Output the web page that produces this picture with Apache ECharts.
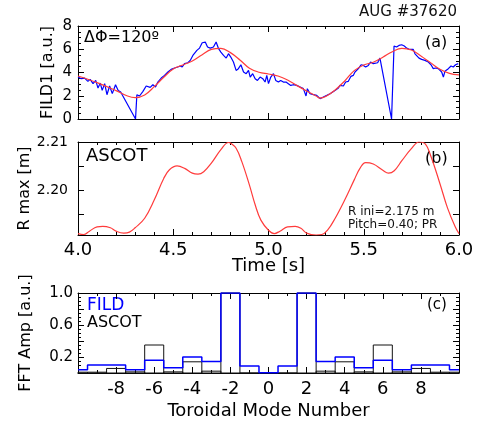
<!DOCTYPE html>
<html><head><meta charset="utf-8">
<script src="https://cdn.jsdelivr.net/npm/echarts@6/dist/echarts.min.js"></script>
<style>html,body{margin:0;padding:0;background:#fff}#c{width:479px;height:421px}</style>
</head><body><div id="c"></div>
<script>
// ---------- DATA ----------
// Panel (a): FILD1 signal (blue) and smooth fit (red)
const fildTime = [4.000,4.017,4.035,4.052,4.064,4.079,4.093,4.105,4.117,4.127,4.140,4.152,4.166,4.180,4.197,4.211,4.224,4.302,4.309,4.323,4.341,4.358,4.367,4.379,4.393,4.407,4.419,4.437,4.454,4.472,4.489,4.507,4.524,4.536,4.547,4.559,4.577,4.589,4.603,4.612,4.624,4.638,4.652,4.668,4.680,4.694,4.711,4.725,4.738,4.750,4.764,4.778,4.790,4.802,4.816,4.830,4.842,4.855,4.869,4.883,4.895,4.904,4.917,4.930,4.942,4.956,4.970,4.982,4.991,5.000,5.012,5.026,5.038,5.052,5.064,5.078,5.092,5.104,5.117,5.131,5.148,5.166,5.183,5.197,5.204,5.218,5.236,5.253,5.271,5.288,5.306,5.323,5.332,5.349,5.367,5.375,5.393,5.405,5.419,5.433,5.445,5.454,5.463,5.472,5.486,5.498,5.510,5.524,5.536,5.550,5.559,5.573,5.585,5.646,5.659,5.672,5.685,5.699,5.713,5.725,5.738,5.748,5.760,5.769,5.778,5.790,5.804,5.821,5.839,5.853,5.865,5.877,5.891,5.900,5.909,5.918,5.926,5.935,5.944,5.958,5.970,5.982,5.996];
const fildVal = [3.61,3.47,3.52,3.24,3.41,3.04,3.32,2.66,3.09,2.46,3.04,2.09,2.84,2.18,2.95,2.46,2.32,0.00,2.09,1.98,2.38,2.84,3.01,2.72,2.95,2.75,3.18,3.52,3.75,4.04,4.27,4.39,4.47,4.56,4.47,4.76,4.84,5.04,5.47,5.41,5.90,6.10,6.56,6.62,6.19,6.10,6.19,6.62,6.05,5.76,5.47,5.24,5.62,5.33,4.90,4.18,4.33,4.67,4.04,3.90,4.18,3.61,3.90,3.47,3.32,3.61,3.47,3.18,3.75,3.04,3.61,3.90,3.32,3.18,3.32,3.18,3.18,3.04,2.89,2.95,2.89,2.75,2.61,1.98,2.61,2.18,2.09,2.03,1.75,1.89,2.03,2.18,2.26,2.46,2.66,2.89,2.84,3.18,3.24,3.67,3.75,4.04,3.90,4.33,4.67,4.61,4.47,4.61,4.90,4.76,4.84,4.84,5.24,0.00,6.28,6.19,6.33,6.39,6.28,6.10,5.99,5.90,5.99,5.61,5.47,5.24,5.13,5.04,4.90,4.67,4.33,4.39,4.33,4.18,4.04,3.61,4.10,4.18,4.33,4.56,4.47,4.67,4.76];
const fitTime = [4.00,4.10,4.20,4.26,4.30,4.35,4.40,4.45,4.50,4.55,4.60,4.65,4.70,4.75,4.80,4.85,4.90,4.95,5.00,5.05,5.10,5.15,5.20,5.25,5.27,5.30,5.35,5.40,5.45,5.50,5.55,5.60,5.65,5.70,5.75,5.80,5.85,5.90,5.95,6.00];
const fitVal = [3.70,3.13,2.44,1.98,1.84,2.07,2.78,3.59,4.30,4.65,4.99,5.51,5.99,6.08,5.71,5.08,4.36,4.02,3.87,3.70,3.36,2.87,2.41,1.98,1.80,1.93,2.50,3.27,4.16,4.65,4.88,5.31,5.79,6.08,5.94,5.42,4.85,4.28,3.93,3.79];
// Panel (b): ASCOT R max
const ascotTime = [4.00,4.03,4.06,4.10,4.13,4.17,4.20,4.24,4.27,4.30,4.35,4.40,4.45,4.48,4.52,4.56,4.60,4.63,4.66,4.70,4.75,4.79,4.80,4.83,4.86,4.90,4.93,4.96,5.00,5.03,5.06,5.10,5.14,5.17,5.20,5.25,5.28,5.31,5.35,5.40,5.45,5.48,5.51,5.55,5.60,5.63,5.66,5.70,5.75,5.79,5.82,5.85,5.90,5.94,5.98,6.00];
const ascotR = [2.1909,2.1907,2.1914,2.1923,2.1924,2.1921,2.1914,2.1910,2.1912,2.1921,2.1941,2.1979,2.2024,2.2042,2.2050,2.2045,2.2035,2.2033,2.2038,2.2056,2.2084,2.2099,2.2098,2.2087,2.2059,2.2010,2.1969,2.1937,2.1916,2.1909,2.1914,2.1923,2.1924,2.1920,2.1910,2.1906,2.1907,2.1916,2.1941,2.1979,2.2021,2.2045,2.2057,2.2054,2.2041,2.2035,2.2040,2.2061,2.2086,2.2100,2.2097,2.2073,2.2013,2.1962,2.1923,2.1909];
// Panel (c): FFT amplitude vs toroidal mode number
const modeNumbers = [-10,-9,-8,-7,-6,-5,-4,-3,-2,-1,0,1,2,3,4,5,6,7,8,9,10];
const fildAmp  = [0.04,0.10,0.10,0.04,0.16,0.065,0.20,0.145,1.0,0.086,0.003,0.086,1.0,0.145,0.20,0.065,0.16,0.04,0.10,0.10,0.04];
const ascotAmp = [0.01,0.01,0.057,0.014,0.35,0.014,0.14,0.023,1.0,0.0,0.0,0.0,1.0,0.023,0.14,0.014,0.35,0.014,0.057,0.01,0.01];
const rmaxLabels = [2.20,2.21];
const rmaxTicks = [2.195,2.20,2.205,2.21];
const fftLabels = [0.2,0.6,1.0];

// ---------- CHART ----------
const FONT = 'DejaVu Sans';
const chart = echarts.init(document.getElementById('c'), null, {renderer:'canvas'});
const line = {color:'#000', width:1};
function tick(len){ return {show:true, inside:true, length:len||6, lineStyle:line}; }
function minor(n){ return {show:true, splitNumber:n, length:3, lineStyle:line}; }
function xAxis(grid, pos, o){
  return Object.assign({type:'value', gridIndex:grid, position:pos,
    axisLine:{show:true, onZero:false, lineStyle:line}, axisTick:tick(), splitLine:{show:false},
    axisLabel:{show:false}, nameMoveOverlap:false}, o);
}
function yAxis(grid, pos, o){
  return Object.assign({type:'value', gridIndex:grid, position:pos,
    axisLine:{show:true, onZero:false, lineStyle:line}, axisTick:tick(), splitLine:{show:false},
    axisLabel:{show:false}, nameMoveOverlap:false}, o);
}
const tLab = {show:true, fontSize:18, fontFamily:FONT, color:'#000', margin:6, formatter:v=>v.toFixed(1)};

const option = {
  animation:false,
  backgroundColor:'#fff',
  textStyle:{fontFamily:FONT},
  grid:[
    {left:78, top:26, width:381, height:93},
    {left:78, top:142, width:381, height:93},
    {left:78, top:293, width:381, height:80}
  ],
  xAxis:[
    xAxis(0,'bottom',{min:4,max:6,interval:0.5,minorTick:minor(5)}),
    xAxis(0,'top',{min:4,max:6,interval:0.5,minorTick:minor(5)}),
    xAxis(1,'bottom',{min:4,max:6,interval:0.5,minorTick:minor(5),axisLabel:tLab,
      name:'Time [s]', nameLocation:'middle', nameGap:22, nameTextStyle:{fontSize:18,fontFamily:FONT,color:'#000'}}),
    xAxis(1,'top',{min:4,max:6,interval:0.5,minorTick:minor(5)}),
    xAxis(2,'bottom',{min:-10,max:10,interval:2,minorTick:minor(2),
      axisLabel:{show:true,fontSize:18,fontFamily:FONT,color:'#000',margin:7,showMinLabel:false,showMaxLabel:false},
      name:'Toroidal Mode Number', nameLocation:'middle', nameGap:29, nameTextStyle:{fontSize:18,fontFamily:FONT,color:'#000'}}),
    xAxis(2,'top',{min:-10,max:10,interval:2,minorTick:minor(2)})
  ],
  yAxis:[
    yAxis(0,'left',{min:0,max:8,interval:2,minorTick:minor(4),
      axisLabel:{show:true,fontSize:15,fontFamily:FONT,color:'#000',margin:6},
      name:'FILD1 [a.u.]', nameLocation:'middle', nameGap:22, nameTextStyle:{fontSize:16,fontFamily:FONT,color:'#000'}}),
    yAxis(0,'right',{min:0,max:8,interval:2,minorTick:minor(4)}),
    yAxis(1,'left',{min:2.1906,max:2.21,
      axisTick:Object.assign(tick(),{customValues:rmaxTicks}),
      axisLabel:{show:true,fontSize:14,fontFamily:FONT,color:'#000',margin:10,customValues:rmaxLabels,formatter:v=>v.toFixed(2)},
      name:'R max [m]', nameLocation:'middle', nameGap:45, nameTextStyle:{fontSize:16,fontFamily:FONT,color:'#000'}}),
    yAxis(1,'right',{min:2.1906,max:2.21,axisTick:Object.assign(tick(),{customValues:rmaxTicks})}),
    yAxis(2,'left',{min:0,max:1.0,interval:0.2,minorTick:minor(4),
      axisLabel:{show:true,fontSize:15,fontFamily:FONT,color:'#000',margin:5,customValues:fftLabels,formatter:v=>v.toFixed(1)},
      name:'FFT Amp [a.u.]', nameLocation:'middle', nameGap:44, nameTextStyle:{fontSize:16,fontFamily:FONT,color:'#000'}}),
    yAxis(2,'right',{min:0,max:1.0,interval:0.2,minorTick:minor(4)})
  ],
  series:[
    {type:'line', xAxisIndex:0, yAxisIndex:0, data:fildTime.map((t,i)=>[t,fildVal[i]]),
      showSymbol:false, lineStyle:{color:'#0000ff', width:1.2}, z:2},
    {type:'line', xAxisIndex:0, yAxisIndex:0, data:fitTime.map((t,i)=>[t,fitVal[i]]),
      smooth:0.4, showSymbol:false, lineStyle:{color:'#ff3b3b', width:1.2}, z:3},
    {type:'line', xAxisIndex:2, yAxisIndex:2, data:ascotTime.map((t,i)=>[t,ascotR[i]]),
      smooth:0.4, showSymbol:false, lineStyle:{color:'#ff3b3b', width:1.2}},
    {type:'custom', xAxisIndex:4, yAxisIndex:4, data:modeNumbers.map((n,i)=>[n,ascotAmp[i]]),
      encode:{x:0,y:1}, z:2,
      renderItem:function(params, api){
        const n = api.value(0), v = api.value(1);
        const p0 = api.coord([n-0.5, 0]);
        const p1 = api.coord([n+0.5, v]);
        const cs = params.coordSys;
        const r = echarts.graphic.clipRectByRect(
          {x:p0[0], y:p1[1], width:p1[0]-p0[0], height:Math.max(p0[1]-p1[1],0.01)},
          {x:cs.x, y:cs.y, width:cs.width, height:cs.height});
        if(!r) return null;
        return {type:'rect', shape:r, style:{fill:'none', stroke:'#111', lineWidth:1}};
      }},
    {type:'line', xAxisIndex:4, yAxisIndex:4, step:'middle', data:modeNumbers.map((n,i)=>[n,fildAmp[i]]),
      showSymbol:false, lineStyle:{color:'#0000ff', width:1.5}, z:3}
  ],
  graphic:[
    {type:'text', right:22, top:5, style:{text:'AUG #37620', font:'15px "DejaVu Sans"', fill:'#111'}},
    {type:'text', left:84, top:30, style:{text:'ΔΦ=120º', font:'16px "DejaVu Sans"', fill:'#000'}},
    {type:'text', left:425, top:35, style:{text:'(a)', font:'16px "DejaVu Sans"', fill:'#000'}},
    {type:'text', left:86, top:147, style:{text:'ASCOT', font:'18px "DejaVu Sans"', fill:'#000'}},
    {type:'text', left:425, top:151, style:{text:'(b)', font:'16px "DejaVu Sans"', fill:'#000'}},
    {type:'text', left:348, top:205, style:{text:'R ini=2.175 m\nPitch=0.40; PR', font:'12px "DejaVu Sans"', lineHeight:13, fill:'#111'}},
    {type:'text', left:87, top:297, style:{text:'FILD', font:'17px "DejaVu Sans"', fill:'#0000ff'}},
    {type:'text', left:87, top:315, style:{text:'ASCOT', font:'16px "DejaVu Sans"', fill:'#000'}},
    {type:'text', left:427, top:298, style:{text:'(c)', font:'15px "DejaVu Sans"', fill:'#000'}}
  ]
};
chart.setOption(option);
</script></body></html>
